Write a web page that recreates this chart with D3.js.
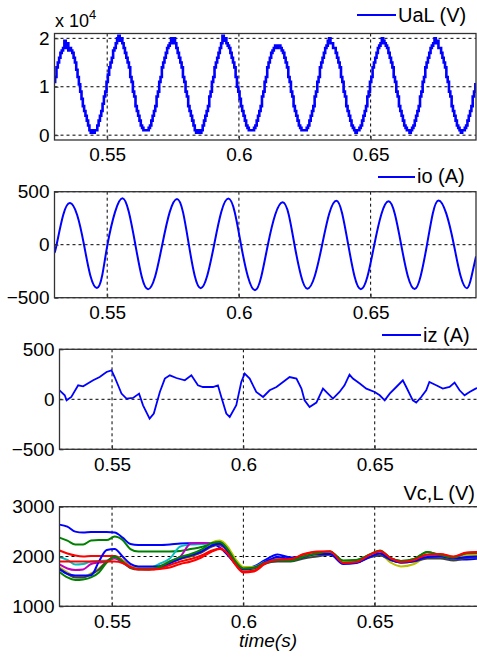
<!DOCTYPE html>
<html>
<head>
<meta charset="utf-8">
<script src="https://cdn.jsdelivr.net/npm/d3@7"></script>
<style>
body { margin: 0; background: #fff; }
svg { display: block; font-family: Arial, "Liberation Sans", sans-serif; }
</style>
</head>
<body>
<div id="chart"></div>
<script>
// ---- data ----
var xTicks = [0.55, 0.6, 0.65];

// UaL in units of 1e4 V, sampled every 0.5 ms from 0.53 s
var ualStart = 0.53, ualStep = 0.0005;
var ualE4 = [
  1.1, 1.2, 1.4, 1.5, 1.6, 1.7, 1.75, 1.8, 1.95, 1.8, 1.9, 1.75, 1.8, 1.75, 1.7, 1.6, 1.5, 1.35, 1.2, 1.05,
  0.9, 0.75, 0.6, 0.5, 0.4, 0.3, 0.2, 0.1, 0.05, 0.1, 0.05, 0.1, 0.1, 0.2, 0.3, 0.4, 0.5, 0.65, 0.8, 0.9,
  1.1, 1.25, 1.4, 1.5, 1.6, 1.75, 1.8, 1.9, 2.0, 2.05, 1.95, 2.0, 1.9, 1.8, 1.7, 1.6, 1.5, 1.4, 1.2, 1.1,
  0.9, 0.8, 0.6, 0.5, 0.4, 0.3, 0.2, 0.15, 0.1, 0.1, 0.1, 0.1, 0.15, 0.2, 0.3, 0.4, 0.5, 0.6, 0.8, 0.9,
  1.1, 1.2, 1.4, 1.5, 1.6, 1.7, 1.8, 1.85, 1.9, 2.0, 1.9, 2.0, 1.9, 1.8, 1.7, 1.6, 1.5, 1.4, 1.2, 1.1,
  0.9, 0.8, 0.6, 0.5, 0.4, 0.3, 0.2, 0.1, 0.05, 0.1, 0.05, 0.05, 0.1, 0.2, 0.3, 0.4, 0.5, 0.6, 0.8, 0.9,
  1.1, 1.2, 1.4, 1.5, 1.6, 1.7, 1.8, 1.9, 2.05, 1.95, 2.0, 1.9, 1.85, 1.8, 1.7, 1.6, 1.5, 1.4, 1.2, 1.0,
  0.9, 0.75, 0.6, 0.5, 0.4, 0.3, 0.2, 0.15, 0.1, 0.1, 0.1, 0.1, 0.15, 0.2, 0.3, 0.4, 0.5, 0.6, 0.8, 0.9,
  1.1, 1.2, 1.4, 1.5, 1.6, 1.7, 1.75, 1.8, 1.85, 1.8, 1.85, 1.85, 1.8, 1.75, 1.7, 1.6, 1.5, 1.4, 1.2, 1.1,
  0.9, 0.8, 0.6, 0.5, 0.4, 0.3, 0.2, 0.15, 0.1, 0.1, 0.1, 0.1, 0.15, 0.2, 0.3, 0.4, 0.5, 0.6, 0.8, 0.9,
  1.1, 1.2, 1.4, 1.5, 1.6, 1.7, 1.8, 1.85, 1.95, 2.0, 1.9, 1.9, 1.8, 1.8, 1.7, 1.6, 1.5, 1.4, 1.2, 1.1,
  0.9, 0.8, 0.6, 0.5, 0.4, 0.3, 0.2, 0.15, 0.1, 0.05, 0.1, 0.1, 0.15, 0.2, 0.3, 0.4, 0.5, 0.6, 0.8, 0.9,
  1.1, 1.2, 1.4, 1.5, 1.6, 1.7, 1.8, 1.85, 1.9, 2.0, 1.95, 1.9, 1.85, 1.8, 1.7, 1.6, 1.5, 1.4, 1.2, 1.1,
  0.9, 0.8, 0.6, 0.5, 0.4, 0.3, 0.2, 0.15, 0.1, 0.1, 0.05, 0.1, 0.15, 0.2, 0.3, 0.4, 0.5, 0.6, 0.8, 0.9,
  1.1, 1.2, 1.4, 1.5, 1.6, 1.7, 1.8, 1.85, 1.9, 2.0, 1.9, 1.95, 1.8, 1.8, 1.7, 1.6, 1.5, 1.4, 1.2, 1.1,
  0.9, 0.8, 0.6, 0.5, 0.4, 0.3, 0.2, 0.15, 0.1, 0.05, 0.1, 0.1, 0.15, 0.2, 0.3, 0.4, 0.5, 0.6, 0.8, 0.9,
  1.05
];

// io (A): zero crossings, peaks and in-between points
var ioTime = [0.530, 0.5308, 0.5333, 0.5359, 0.5386, 0.5412, 0.5436, 0.5461, 0.5481, 0.5501,
  0.5530, 0.5558, 0.5582, 0.5607, 0.5631, 0.5655, 0.5682, 0.5709, 0.5737, 0.5765,
  0.5788, 0.5810, 0.5832, 0.5855, 0.5880, 0.5906, 0.5933, 0.5960, 0.5984, 0.6008,
  0.6034, 0.6061, 0.6085, 0.6110, 0.6138, 0.6166, 0.6189, 0.6211, 0.6236, 0.6260,
  0.6288, 0.6316, 0.6343, 0.6370, 0.6392, 0.6415, 0.6439, 0.6463, 0.6488, 0.6514,
  0.6541, 0.6568, 0.6592, 0.6616, 0.6641, 0.6667, 0.6690, 0.6714, 0.6736, 0.6758,
  0.6787, 0.6816, 0.6841, 0.6866, 0.6883, 0.6900];
var ioValue = [-75, 0, 280, 393, 280, 0, -290, -408, -290, 0,
  310, 438, 310, 0, -300, -420, -300, 0, 305, 432,
  305, 0, -290, -410, -290, 0, 308, 435, 308, 0,
  -300, -430, -300, 0, 285, 400, 285, 0, -295, -415,
  -295, 0, 295, 415, 295, 0, -300, -420, -300, 0,
  290, 410, 290, 0, -295, -418, -295, 0, 295, 418,
  295, 0, -290, -410, -300, -110];

// iz (A)
var izTime = [0.5300, 0.5320, 0.5327, 0.5345, 0.5371, 0.5390, 0.5428, 0.5453, 0.5479, 0.5498,
  0.5510, 0.5536, 0.5555, 0.5580, 0.5603, 0.5618, 0.5643, 0.5659, 0.5682, 0.5701,
  0.5720, 0.5745, 0.5777, 0.5802, 0.5827, 0.5846, 0.5884, 0.5903, 0.5916, 0.5935,
  0.5948, 0.5973, 0.5992, 0.6005, 0.6024, 0.6049, 0.6075, 0.6100, 0.6126, 0.6151,
  0.6176, 0.6202, 0.6221, 0.6233, 0.6252, 0.6278, 0.6303, 0.6322, 0.6341, 0.6366,
  0.6385, 0.6404, 0.6417, 0.6443, 0.6468, 0.6500, 0.6519, 0.6538, 0.6557, 0.6582,
  0.6607, 0.6620, 0.6645, 0.6658, 0.6677, 0.6696, 0.6708, 0.6734, 0.6759, 0.6785,
  0.6804, 0.6823, 0.6842, 0.6861, 0.6884, 0.6900];
var izValue = [90, 40, -10, 23, 140, 130, 190, 223, 273, 290,
  223, 57, 7, 13, 57, -60, -193, -143, 73, 207,
  240, 213, 190, 240, 140, 123, 123, 140, 23, -143,
  -177, -60, 173, 257, 207, 73, 23, 90, 123, 173,
  223, 207, 107, -10, -77, -33, 107, 57, 7, 73,
  140, 247, 207, 157, 107, 73, 40, -10, 57, 123,
  190, 123, -10, -33, 23, 90, 173, 140, 107, 123,
  167, 90, 40, 73, 107, 120];

// Vc,L (V): capacitor voltages, one list per line, on a shared time grid
var vcTime = [0.530, 0.533, 0.536, 0.539, 0.542, 0.545, 0.548, 0.551, 0.554, 0.557,
  0.560, 0.564, 0.568, 0.572, 0.576, 0.580, 0.584, 0.588, 0.591, 0.594,
  0.597, 0.600, 0.604, 0.608, 0.613, 0.618, 0.623, 0.628, 0.633, 0.638,
  0.643, 0.648, 0.652, 0.656, 0.660, 0.665, 0.670, 0.675, 0.680, 0.685, 0.690];
var vcBlue1 = [2640, 2600, 2500, 2480, 2490, 2490, 2490, 2480, 2380, 2250,
  2230, 2230, 2230, 2240, 2260, 2265, 2270, 2260, 2180, 2030,
  1850, 1760, 1800, 1920, 2040, 1980, 1990, 2020, 2040, 1880,
  1900, 1990, 2030, 1930, 1890, 1920, 1990, 1990, 1950, 1940, 1960];
var vcGreen1 = [2380, 2320, 2240, 2240, 2320, 2330, 2330, 2400, 2330, 2150,
  2100, 2100, 2100, 2100, 2110, 2150, 2190, 2260, 2290, 2150,
  1920, 1770, 1780, 1880, 1940, 1930, 2000, 2060, 2090, 1910,
  1930, 2030, 2110, 1960, 1910, 1950, 2090, 2020, 1970, 2060, 2070];
var vcRed1 = [2120, 2060, 2020, 2000, 2010, 2010, 2010, 2010, 1930, 1800,
  1760, 1740, 1760, 1830, 1900, 1950, 2020, 2120, 2160, 2060,
  1830, 1680, 1700, 1840, 1930, 1940, 2040, 2090, 2100, 1880,
  1880, 2010, 2100, 1950, 1880, 1920, 2020, 2040, 1990, 2070, 2080];
var vcCyan = [1990, 1930, 1840, 1850, 1900, 1910, 1920, 1980, 1870, 1790,
  1760, 1770, 1850, 1960, 2200, 2240, 2250, 2260, 2240, 2120,
  1890, 1770, 1790, 1890, 1950, 1930, 1990, 2030, 2060, 1880,
  1900, 2000, 2040, 1960, 1900, 1920, 2010, 2000, 1950, 2020, 2030];
var vcMagenta = [1840, 1760, 1730, 1740, 1850, 1880, 1900, 1960, 1880, 1780,
  1760, 1760, 1800, 1900, 2000, 2260, 2270, 2260, 2230, 2120,
  1880, 1760, 1780, 1880, 1930, 1920, 1980, 2030, 2060, 1890,
  1910, 2010, 2040, 1950, 1890, 1930, 2000, 2000, 1960, 2020, 2020];
var vcYellow = [1780, 1680, 1600, 1600, 1660, 1760, 1900, 1990, 1920, 1790,
  1760, 1760, 1800, 1900, 1960, 2000, 2100, 2280, 2320, 2200,
  1950, 1790, 1790, 1870, 1920, 1920, 1980, 2040, 2070, 1900,
  1900, 2000, 2050, 1880, 1800, 1850, 1990, 1990, 1950, 2020, 2030];
var vcBlack = [1760, 1650, 1580, 1580, 1640, 1740, 1900, 2000, 1900, 1770,
  1740, 1740, 1790, 1880, 1950, 2010, 2080, 2200, 2240, 2120,
  1880, 1750, 1780, 1860, 1900, 1900, 1960, 2000, 2040, 1870,
  1880, 1980, 2020, 1930, 1880, 1900, 1960, 1960, 1920, 1970, 1980];
var vcBlue2 = [1740, 1650, 1620, 1620, 1620, 1900, 2130, 2150, 2000, 1850,
  1800, 1800, 1800, 1870, 1960, 2030, 2100, 2220, 2260, 2120,
  1860, 1740, 1760, 1880, 1990, 1950, 1990, 2050, 2050, 1850,
  1870, 1990, 2060, 1940, 1880, 1910, 1990, 2000, 1960, 1990, 2000];
var vcGreen2 = [1690, 1580, 1530, 1540, 1580, 1680, 1880, 1990, 1900, 1780,
  1750, 1750, 1790, 1900, 1990, 2050, 2140, 2270, 2290, 2150,
  1900, 1760, 1770, 1870, 1930, 1920, 2000, 2060, 2100, 1920,
  1930, 2040, 2120, 1970, 1910, 1950, 2090, 2030, 1980, 2070, 2080];
var vcRed2 = [1900, 1900, 1900, 1900, 1900, 1900, 1900, 1900, 1870, 1790,
  1740, 1740, 1750, 1780, 1850, 1900, 1980, 2100, 2150, 2060,
  1840, 1700, 1720, 1860, 1940, 1950, 2050, 2100, 2100, 1870,
  1890, 2030, 2110, 1970, 1890, 1930, 2040, 2050, 2000, 2080, 2090];

var vcSeries = [
  { values: vcBlue1, color: "#0000ff" },
  { values: vcGreen1, color: "#008000" },
  { values: vcRed1, color: "#ff0000" },
  { values: vcCyan, color: "#00bfbf" },
  { values: vcMagenta, color: "#bf00bf" },
  { values: vcYellow, color: "#bfbf00" },
  { values: vcBlack, color: "#404040" },
  { values: vcBlue2, color: "#0000ff" },
  { values: vcGreen2, color: "#008000" },
  { values: vcRed2, color: "#ff0000" }
];

// ---- drawing ----
var W = 477, H = 658;
var svg = d3.select("#chart").append("svg").attr("width", W).attr("height", H);

function zip(ts, vs) {
  return ts.map(function (t, i) { return { t: t, v: vs[i] }; });
}

var clipCount = 0;
function drawPanel(p) {
  var x = d3.scaleLinear().domain([0.53, 0.69]).range([p.left, p.right]);
  var y = d3.scaleLinear().domain(p.yDomain).range([p.bottom, p.top]);
  var g = svg.append("g");

  var id = "clip" + (clipCount++);
  svg.append("clipPath").attr("id", id).append("rect")
    .attr("x", p.left).attr("y", p.top)
    .attr("width", p.right - p.left).attr("height", p.bottom - p.top);

  // dashed grid
  g.selectAll(".vg").data(xTicks).enter().append("line")
    .attr("x1", function (d) { return x(d); }).attr("x2", function (d) { return x(d); })
    .attr("y1", p.top).attr("y2", p.bottom)
    .attr("stroke", "#000").attr("stroke-width", 1).attr("stroke-dasharray", "3,3");
  g.selectAll(".hg").data(p.yTicks).enter().append("line")
    .attr("x1", p.left).attr("x2", p.right)
    .attr("y1", function (d) { return y(d); }).attr("y2", function (d) { return y(d); })
    .attr("stroke", "#000").attr("stroke-width", 1).attr("stroke-dasharray", "3,3");

  var plot = g.append("g").attr("clip-path", "url(#" + id + ")");

  // axes
  var ax = g.append("g").attr("transform", "translate(0," + p.bottom + ")")
    .call(d3.axisBottom(x).tickValues(xTicks).tickFormat(d3.format(""))
      .tickSizeInner(-4).tickSizeOuter(0).tickPadding(8));
  var ay = g.append("g").attr("transform", "translate(" + p.left + ",0)")
    .call(d3.axisLeft(y).tickValues(p.yTicks).tickFormat(d3.format(""))
      .tickSizeInner(-4).tickSizeOuter(0).tickPadding(5));
  [ax, ay].forEach(function (a) {
    a.select(".domain").remove();
    a.attr("font-size", 19).attr("font-family", "Arial, 'Liberation Sans', sans-serif");
    a.selectAll("text").attr("fill", "#000");
    a.selectAll("line").attr("stroke", "#333");
  });

  // box
  g.append("rect").attr("x", p.left).attr("y", p.top)
    .attr("width", p.right - p.left).attr("height", p.bottom - p.top)
    .attr("fill", "none").attr("stroke", "#333").attr("stroke-width", 1.3);

  return { x: x, y: y, plot: plot };
}

function legend(x1, x2, yy, label, tx, ty) {
  if (x1 !== null) {
    svg.append("line").attr("x1", x1).attr("x2", x2).attr("y1", yy).attr("y2", yy)
      .attr("stroke", "#0000ff").attr("stroke-width", 2);
  }
  svg.append("text").attr("x", tx).attr("y", ty).attr("font-size", 20)
    .attr("text-anchor", x1 === null ? "end" : "start").text(label);
}

// panel 1: UaL
var p1 = drawPanel({ left: 54.5, right: 476, top: 33.5, bottom: 140, yDomain: [-0.1, 2.1], yTicks: [0, 1, 2] });
var ualData = ualE4.map(function (v, i) { return { t: ualStart + i * ualStep, v: v }; });
p1.plot.append("path").datum(ualData)
  .attr("fill", "none").attr("stroke", "#0000ff").attr("stroke-width", 2.6)
  .attr("d", d3.line().curve(d3.curveStep)
    .x(function (d) { return p1.x(d.t); }).y(function (d) { return p1.y(d.v); }));
var mult = svg.append("text").attr("x", 55).attr("y", 27).attr("font-size", 18);
mult.append("tspan").text("x 10");
mult.append("tspan").attr("dy", -8).attr("font-size", 13).text("4");
legend(357, 396, 15, "UaL (V)", 398, 22);

// panel 2: io
var p2 = drawPanel({ left: 54.5, right: 476, top: 191.7, bottom: 297.7, yDomain: [-500, 500], yTicks: [-500, 0, 500] });
p2.plot.append("path").datum(zip(ioTime, ioValue))
  .attr("fill", "none").attr("stroke", "#0000ff").attr("stroke-width", 2)
  .attr("d", d3.line().curve(d3.curveNatural)
    .x(function (d) { return p2.x(d.t); }).y(function (d) { return p2.y(d.v); }));
legend(378, 415, 177, "io (A)", 417, 183);

// panel 3: iz
var p3 = drawPanel({ left: 59.5, right: 479.8, top: 349.3, bottom: 449.3, yDomain: [-500, 500], yTicks: [-500, 0, 500] });
p3.plot.append("path").datum(zip(izTime, izValue))
  .attr("fill", "none").attr("stroke", "#0000ff").attr("stroke-width", 1.8)
  .attr("d", d3.line()
    .x(function (d) { return p3.x(d.t); }).y(function (d) { return p3.y(d.v); }));
legend(382, 421, 335, "iz (A)", 423, 342);

// panel 4: Vc,L
var p4 = drawPanel({ left: 59.5, right: 479.8, top: 506.7, bottom: 606.3, yDomain: [1000, 3000], yTicks: [1000, 2000, 3000] });
var vcLine = d3.line().curve(d3.curveMonotoneX)
  .x(function (d) { return p4.x(d.t); }).y(function (d) { return p4.y(d.v); });
vcSeries.forEach(function (s) {
  p4.plot.append("path").datum(zip(vcTime, s.values))
    .attr("fill", "none").attr("stroke", s.color).attr("stroke-width", 2)
    .attr("d", vcLine);
});
legend(null, null, 0, "Vc,L (V)", 475, 500);

svg.append("text").attr("x", 268).attr("y", 647).attr("text-anchor", "middle")
  .attr("font-size", 19).attr("font-style", "italic").text("time(s)");
</script>
</body>
</html>
